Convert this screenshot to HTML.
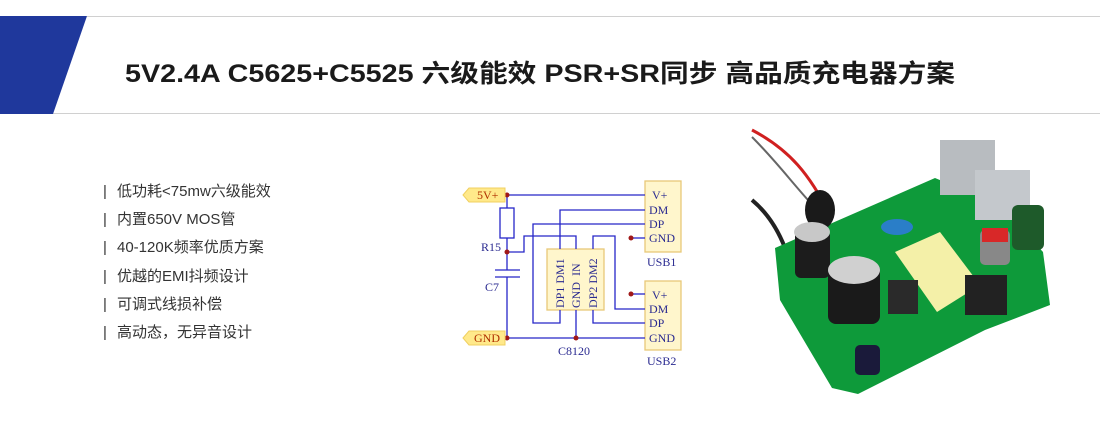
<!DOCTYPE html>
<html><head><meta charset="utf-8"><style>
html,body{margin:0;padding:0;background:#fff;width:1100px;height:422px;overflow:hidden}
svg{display:block}
</style></head><body>
<svg width="1100" height="422" viewBox="0 0 1100 422" xmlns="http://www.w3.org/2000/svg">
<line x1="87" y1="16.5" x2="1100" y2="16.5" stroke="#d0d0d0" stroke-width="1"/>
<line x1="53" y1="113.5" x2="1100" y2="113.5" stroke="#d0d0d0" stroke-width="1"/>
<polygon points="0,16 87,16 53,114 0,114" fill="#1f389c"/>
<text x="125" y="82" font-family="Liberation Sans, Noto Sans CJK SC, sans-serif" font-weight="bold" font-size="25" fill="#1a1a1a" textLength="830" lengthAdjust="spacingAndGlyphs">5V2.4A C5625+C5525 六级能效 PSR+SR同步 高品质充电器方案</text>

<g font-family="Liberation Sans, Noto Sans CJK SC, sans-serif" font-size="15" fill="#333">
<text x="103" y="196">|</text><text x="117" y="196">低功耗&lt;75mw六级能效</text>
<text x="103" y="224">|</text><text x="117" y="224">内置650V MOS管</text>
<text x="103" y="252">|</text><text x="117" y="252">40-120K频率优质方案</text>
<text x="103" y="281">|</text><text x="117" y="281">优越的EMI抖频设计</text>
<text x="103" y="309">|</text><text x="117" y="309">可调式线损补偿</text>
<text x="103" y="337">|</text><text x="117" y="337">高动态，无异音设计</text>
</g>

<g fill="none" stroke="#2626c8" stroke-width="1.3">
<rect x="645" y="181" width="36" height="71" fill="#fff6cc" stroke="#e8c878"/>
<rect x="645" y="281" width="36" height="69" fill="#fff6cc" stroke="#e8c878"/>
<rect x="547" y="249" width="57" height="61" fill="#fff6cc" stroke="#e8c878"/>
<polyline points="507,195 645,195"/>
<polyline points="507,195 507,208"/>
<rect x="500" y="208" width="14" height="30"/>
<polyline points="507,238 507,270"/>
<line x1="495" y1="270" x2="520" y2="270"/>
<line x1="495" y1="277" x2="520" y2="277"/>
<polyline points="507,277 507,338"/>
<polyline points="507,252 524,252 524,236 576,236 576,249"/>
<polyline points="645,210 560,210 560,249"/>
<polyline points="645,224 533,224 533,323 560,323 560,310"/>
<polyline points="631,238 645,238"/>
<polyline points="593,249 593,236 615,236 615,309 645,309"/>
<polyline points="593,310 593,323 645,323"/>
<polyline points="631,294 645,294"/>
<polyline points="505,338 645,338"/>
<polyline points="576,310 576,338"/>
</g>
<g fill="#a01818">
<circle cx="507" cy="195" r="2.5"/><circle cx="507" cy="252" r="2.5"/>
<circle cx="631" cy="238" r="2.5"/><circle cx="631" cy="294" r="2.5"/>
<circle cx="507" cy="338" r="2.5"/><circle cx="576" cy="338" r="2.5"/>
</g>
<polygon points="463,195 469,188 505,188 505,202 469,202" fill="#ffe98a" stroke="#f0d060"/>
<polygon points="463,338 469,331 505,331 505,345 469,345" fill="#ffe98a" stroke="#f0d060"/>
<g font-family="Liberation Serif, serif" font-size="12">
<text x="477" y="199" fill="#b03000">5V+</text>
<text x="474" y="342" fill="#b03000">GND</text>
</g>
<g font-family="Liberation Serif, serif" font-size="12" fill="#2a2a90">
<text x="652" y="199">V+</text><text x="649" y="214">DM</text><text x="649" y="228">DP</text><text x="649" y="242">GND</text>
<text x="652" y="299">V+</text><text x="649" y="313">DM</text><text x="649" y="327">DP</text><text x="649" y="342">GND</text>
<text x="647" y="266">USB1</text><text x="647" y="365">USB2</text>
<text x="481" y="251">R15</text><text x="485" y="291">C7</text>
<text x="558" y="355">C8120</text>
<g transform="rotate(-90)">
<text x="-308" y="564">DP1 DM1</text>
<text x="-308" y="580">GND&#160;&#160;IN</text>
<text x="-308" y="597">DP2 DM2</text>
</g>
</g>

<g>
<path d="M752,130 C790,150 810,175 830,215" stroke="#d02020" stroke-width="3" fill="none"/>
<path d="M752,200 C770,215 780,235 785,248" stroke="#222" stroke-width="4" fill="none"/>
<path d="M752,137 C775,160 790,180 808,200" stroke="#666" stroke-width="2" fill="none"/>
<polygon points="775,248 935,178 1000,205 1043,252 1050,305 985,330 858,394 832,388 780,300" fill="#0e9a3a"/>
<ellipse cx="820" cy="210" rx="15" ry="20" fill="#1a1a1a"/>
<rect x="795" y="230" width="35" height="48" rx="6" fill="#1c1c1c"/>
<ellipse cx="812" cy="232" rx="18" ry="10" fill="#c8c8c8"/>
<rect x="828" y="262" width="52" height="62" rx="8" fill="#1a1a1a"/>
<ellipse cx="854" cy="270" rx="26" ry="14" fill="#d0d0d0"/>
<polygon points="895,252 940,232 980,285 937,312" fill="#f4f0a8"/>
<rect x="888" y="280" width="30" height="34" fill="#2a2a2a"/>
<ellipse cx="897" cy="227" rx="16" ry="8" fill="#2a7ec8"/>
<rect x="940" y="140" width="55" height="55" fill="#b8bcc0"/>
<rect x="975" y="170" width="55" height="50" fill="#c4c8cc"/>
<rect x="980" y="230" width="30" height="35" rx="5" fill="#888"/>
<rect x="982" y="228" width="26" height="14" fill="#d82828"/>
<rect x="1012" y="205" width="32" height="45" rx="6" fill="#1e5a2a"/>
<rect x="965" y="275" width="42" height="40" fill="#222"/>
<rect x="855" y="345" width="25" height="30" rx="5" fill="#1a1a3a"/>
</g>
</svg>
</body></html>
